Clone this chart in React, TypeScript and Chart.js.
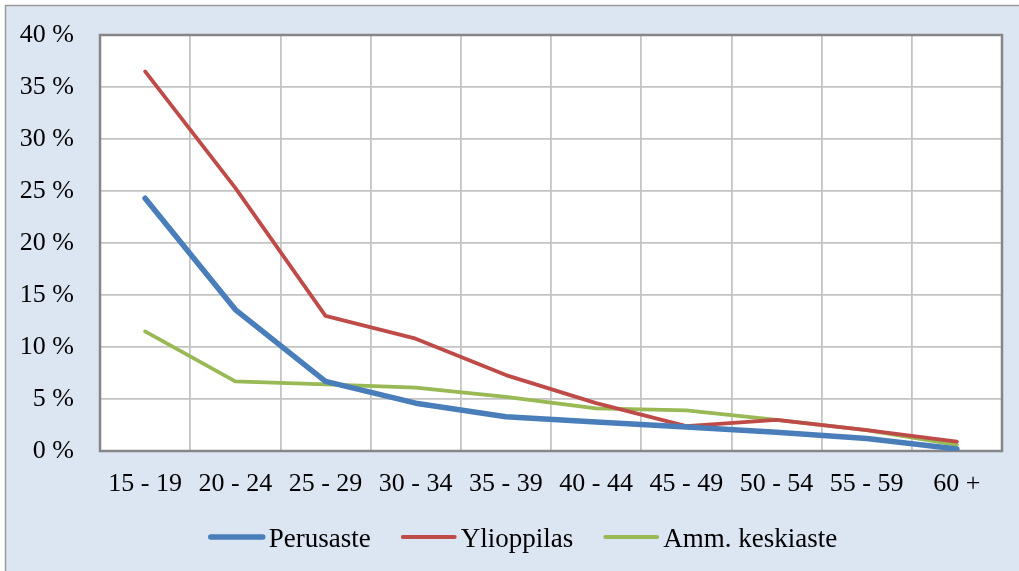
import React, { useEffect, useRef } from "react";
import { Chart, registerables } from "chart.js";

Chart.register(...registerables);

const categories = ["15 - 19", "20 - 24", "25 - 29", "30 - 34", "35 - 39", "40 - 44", "45 - 49", "50 - 54", "55 - 59", "60 +"];
const perusaste = [24.3, 13.6, 6.7, 4.6, 3.3, 2.8, 2.3, 1.8, 1.2, 0.2];
const ylioppilas = [36.5, 25.3, 13.0, 10.8, 7.3, 4.6, 2.4, 3.0, 2.0, 0.9];
const ammKeskiaste = [11.5, 6.7, 6.4, 6.1, 5.2, 4.1, 3.9, 3.0, 2.0, 0.6];
const seriesNames = ["Perusaste", "Ylioppilas", "Amm. keskiaste"];
const yTicks = [0, 5, 10, 15, 20, 25, 30, 35, 40];

const FONT = '"Liberation Serif", "Times New Roman", serif';
const AXIS_FONT_SIZE = 26;
const LEGEND_FONT_SIZE = 27;

const backgroundPlugin = {
  id: "bgPlugin",
  beforeDraw(chart: any) {
    const { ctx, width, height, chartArea } = chart;
    ctx.save();
    ctx.fillStyle = "#ffffff";
    ctx.fillRect(0, 0, width, height);
    ctx.fillStyle = "#dce6f2";
    ctx.fillRect(5, 5, width, height);
    ctx.strokeStyle = "#9a9a9a";
    ctx.lineWidth = 1.5;
    ctx.beginPath();
    ctx.moveTo(5.5, height + 5);
    ctx.lineTo(5.5, 5.5);
    ctx.lineTo(width + 5, 5.5);
    ctx.stroke();
    ctx.fillStyle = "#ffffff";
    ctx.fillRect(chartArea.left, chartArea.top, chartArea.right - chartArea.left, chartArea.bottom - chartArea.top);
    ctx.restore();
  },
  beforeDatasetsDraw(chart: any) {
    const { ctx, chartArea } = chart;
    ctx.save();
    ctx.strokeStyle = "#868686";
    ctx.lineWidth = 2.5;
    ctx.strokeRect(chartArea.left, chartArea.top, chartArea.right - chartArea.left, chartArea.bottom - chartArea.top);
    ctx.restore();
  },
  afterDraw(chart: any) {
    const { ctx } = chart;
    const ds = chart.data.datasets;
    ctx.save();
    ctx.font = `${LEGEND_FONT_SIZE}px ${FONT}`;
    ctx.textBaseline = "alphabetic";
    ctx.textAlign = "left";
    const lineLen = 56;
    const gap = 4;
    const itemGap = 30;
    const widths = ds.map((d: any) => ctx.measureText(d.label).width);
    let total = 0;
    widths.forEach((w: number, i: number) => {
      total += lineLen + gap + w + (i < widths.length - 1 ? itemGap : 0);
    });
    let x = 523 - total / 2;
    const y = 537;
    ds.forEach((d: any, i: number) => {
      ctx.strokeStyle = d.borderColor;
      ctx.lineWidth = d.borderWidth;
      ctx.lineCap = "round";
      ctx.beginPath();
      ctx.moveTo(x + 2, y);
      ctx.lineTo(x + lineLen - 2, y);
      ctx.stroke();
      ctx.fillStyle = "#000000";
      ctx.fillText(d.label, x + lineLen + gap, 547);
      x += lineLen + gap + widths[i] + itemGap;
    });
    ctx.restore();
  },
};

export default function App() {
  const canvasRef = useRef<HTMLCanvasElement | null>(null);

  useEffect(() => {
    if (!canvasRef.current) return;
    const chart = new Chart(canvasRef.current, {
      type: "line",
      data: {
        labels: categories,
        datasets: [
          { label: seriesNames[0], data: perusaste, borderColor: "#4a7ebb", borderWidth: 5.5 },
          { label: seriesNames[1], data: ylioppilas, borderColor: "#be4b48", borderWidth: 3.8 },
          { label: seriesNames[2], data: ammKeskiaste, borderColor: "#98b954", borderWidth: 3.8 },
        ].map((d) => ({
          ...d,
          fill: false,
          tension: 0,
          pointRadius: 0,
          pointHoverRadius: 0,
          borderCapStyle: "round" as const,
          borderJoinStyle: "round" as const,
        })),
      },
      options: {
        animation: false,
        responsive: false,
        maintainAspectRatio: false,
        events: [],
        layout: { padding: { left: 0, right: 17, top: 35, bottom: 60 } },
        plugins: {
          legend: { display: false },
          tooltip: { enabled: false },
          title: { display: false },
        },
        scales: {
          x: {
            type: "category",
            offset: true,
            grid: { display: true, offset: true, color: "#c4c4c4", lineWidth: 1.8, drawTicks: false },
            border: { display: false },
            ticks: {
              color: "#000000",
              font: { family: FONT, size: AXIS_FONT_SIZE },
              padding: 18,
              maxRotation: 0,
              autoSkip: false,
            },
            afterFit(scale: any) {
              scale.height = 60;
              scale.paddingLeft = 0;
              scale.paddingRight = 0;
            },
          },
          y: {
            min: 0,
            max: 40,
            afterBuildTicks(scale: any) {
              scale.ticks = yTicks.map((v) => ({ value: v }));
            },
            grid: { color: "#c4c4c4", lineWidth: 1.8, drawTicks: false },
            border: { display: false },
            ticks: {
              color: "#000000",
              font: { family: FONT, size: AXIS_FONT_SIZE },
              padding: 26,
              callback: (v: any) => `${v} %`,
            },
            afterFit(scale: any) {
              scale.width = 100;
              scale.paddingTop = 0;
              scale.paddingBottom = 0;
            },
          },
        },
      },
      plugins: [backgroundPlugin],
    });
    return () => chart.destroy();
  }, []);

  return (
    <div style={{ position: "fixed", left: 0, top: 0, width: 1019, height: 571 }}>
      <canvas ref={canvasRef} width={1019} height={571} style={{ display: "block", width: 1019, height: 571 }} />
    </div>
  );
}
